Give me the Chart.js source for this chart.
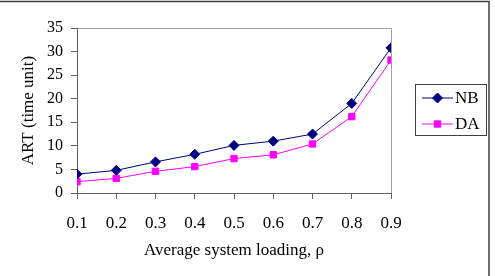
<!DOCTYPE html>
<html>
<head>
<meta charset="utf-8">
<script src="https://cdn.jsdelivr.net/npm/chart.js@4/dist/chart.umd.min.js"></script>
<style>
  html, body { margin: 0; padding: 0; background: #fff; }
  #wrap { position: relative; width: 495px; height: 276px; }
</style>
</head>
<body>
<div id="wrap"><canvas id="chart" width="495" height="276"></canvas></div>
<script>
// Data
const loadings = [0.1, 0.2, 0.3, 0.4, 0.5, 0.6, 0.7, 0.8, 0.9];
const nbValues = [4.0, 4.8, 6.6, 8.2, 10.1, 11.0, 12.5, 19.0, 30.8];
const daValues = [2.4, 3.1, 4.6, 5.6, 7.3, 8.1, 10.4, 16.2, 28.2];
const seriesNames = ['NB', 'DA'];
const seriesColors = ['#000080', '#ff00ff'];
const seriesMarkers = ['rectRot', 'rect'];

const SERIF = '"Liberation Serif", "Times New Roman", serif';

const toPoints = (vals) => loadings.map((x, i) => ({ x, y: vals[i] }));

// frame around the whole figure + gray top/right border of plot area
const framePlugin = {
    id: 'frame',
    beforeDraw(chart) {
        const { ctx, chartArea: a } = chart;
        ctx.save();
        ctx.strokeStyle = '#404040';
        ctx.lineWidth = 1.5;
        ctx.beginPath();
        ctx.moveTo(0, 1.5);
        ctx.lineTo(489, 1.5);
        ctx.lineTo(489, 276);
        ctx.stroke();
        ctx.strokeStyle = '#a0a0a0';
        ctx.lineWidth = 1;
        ctx.beginPath();
        ctx.moveTo(a.left, Math.round(a.top) + 0.5);
        ctx.lineTo(Math.round(a.right) + 0.5, Math.round(a.top) + 0.5);
        ctx.lineTo(Math.round(a.right) + 0.5, a.bottom);
        ctx.stroke();
        ctx.restore();
    }
};

// boxed legend with line + marker swatches
const boxLegendPlugin = {
    id: 'boxLegend',
    afterDraw(chart) {
        const { ctx } = chart;
        const box = { x: 415.5, y: 84.5, w: 71, h: 51 };
        ctx.save();
        ctx.strokeStyle = '#404040';
        ctx.lineWidth = 1;
        ctx.strokeRect(box.x, box.y, box.w, box.h);
        chart.data.datasets.forEach((ds, i) => {
            const cy = 98 + i * 26;
            ctx.strokeStyle = ds.borderColor;
            ctx.lineWidth = 1;
            ctx.beginPath();
            ctx.moveTo(422, cy);
            ctx.lineTo(453, cy);
            ctx.stroke();
            ctx.fillStyle = ds.pointBackgroundColor;
            ctx.strokeStyle = ds.pointBorderColor;
            Chart.helpers.drawPoint(ctx, {
                pointStyle: ds.pointStyle, radius: ds.pointRadius, borderWidth: 1
            }, 437.5, cy);
            ctx.fillStyle = '#000';
            ctx.font = '17px ' + SERIF;
            ctx.textBaseline = 'middle';
            ctx.textAlign = 'left';
            ctx.fillText(ds.label, 455, cy + 1);
        });
        ctx.restore();
    }
};

const datasets = [nbValues, daValues].map((vals, i) => ({
    label: seriesNames[i],
    data: toPoints(vals),
    borderColor: seriesColors[i],
    backgroundColor: seriesColors[i],
    pointBackgroundColor: seriesColors[i],
    pointBorderColor: seriesColors[i],
    pointStyle: seriesMarkers[i],
    pointRadius: i === 0 ? 5 : 4.5,
    borderWidth: 1,
    tension: 0,
}));

new Chart(document.getElementById('chart'), {
    type: 'line',
    data: { datasets },
    options: {
        responsive: false,
        animation: false,
        devicePixelRatio: 1,
        layout: { padding: { top: 28, right: 104, left: 0, bottom: 0 } },
        plugins: { legend: { display: false }, tooltip: { enabled: false } },
        scales: {
            x: {
                type: 'linear',
                min: 0.1,
                max: 0.9,
                afterFit: (s) => { s.height = 83; },
                ticks: {
                    stepSize: 0.1,
                    color: '#000',
                    padding: 14,
                    font: { family: SERIF, size: 17 },
                    callback: (v) => Number(v).toFixed(1),
                },
                grid: { drawOnChartArea: false, tickLength: 6, color: '#606060' },
                border: { color: '#606060' },
                title: {
                    display: true,
                    text: 'Average system loading, ρ',
                    color: '#000',
                    font: { family: SERIF, size: 17 },
                    padding: { top: 0, bottom: 15 },
                },
            },
            y: {
                min: 0,
                max: 35,
                afterFit: (s) => { s.width = 77; },
                ticks: {
                    stepSize: 5,
                    color: '#000',
                    padding: 8,
                    font: { family: SERIF, size: 16 },
                },
                grid: { drawOnChartArea: false, tickLength: 6, color: '#606060' },
                border: { color: '#606060' },
                title: {
                    display: true,
                    text: 'ART (time unit)',
                    color: '#000',
                    font: { family: SERIF, size: 17 },
                    padding: { top: 18, bottom: 0 },
                },
            },
        },
    },
    plugins: [framePlugin, boxLegendPlugin],
});
</script>
</body>
</html>
